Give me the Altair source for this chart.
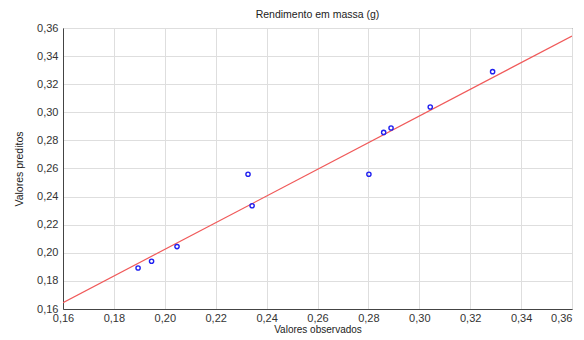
import altair as alt
import pandas as pd

observed = [0.1895, 0.1948, 0.2048, 0.2327, 0.2343, 0.2802, 0.2860, 0.2889, 0.3043, 0.3288]
predicted = [0.1892, 0.1940, 0.2044, 0.2559, 0.2335, 0.2559, 0.2857, 0.2888, 0.3038, 0.3289]
fit_x = [0.16, 0.36]
fit_y = [0.1645, 0.3543]
ticks = [0.16, 0.18, 0.20, 0.22, 0.24, 0.26, 0.28, 0.30, 0.32, 0.34, 0.36]

pts = pd.DataFrame({"obs": observed, "pred": predicted})
fit = pd.DataFrame({"obs": fit_x, "pred": fit_y})

lab = "replace(format(datum.value, '.2f'), '.', ',')"
font = "Liberation Sans"

xsc = alt.Scale(domain=[0.16, 0.36], nice=False, zero=False)
ysc = alt.Scale(domain=[0.16, 0.36], nice=False, zero=False)


def x_axis():
    return alt.Axis(values=ticks, labelExpr=lab, title="Valores observados",
                    grid=True, gridColor="#dedede", domainColor="#444",
                    ticks=False,
                    labelFont=font, labelFontSize=11, labelColor="#333",
                    labelAlign={"condition": {"test": "datum.value >= 0.359", "value": "right"},
                                "value": "center"},
                    titleFont=font, titleFontSize=10, titleFontWeight="normal",
                    titleColor="#222", labelPadding=3,
                    titleY=23, titleBaseline="alphabetic",
                    labelFlush=False, labelOverlap=False)


def y_axis():
    return alt.Axis(values=ticks, labelExpr=lab, title="Valores preditos",
                    grid=True, gridColor="#dedede", domainColor="#444",
                    ticks=False,
                    labelFont=font, labelFontSize=11, labelColor="#333",
                    titleFont=font, titleFontSize=10.5, titleFontWeight="normal",
                    titleColor="#222", labelPadding=5, titlePadding=12,
                    labelFlush=False, labelOverlap=False)


line = alt.Chart(fit).mark_line(color="#f05a5a", strokeWidth=1.2, clip=True).encode(
    x=alt.X("obs:Q", scale=xsc, axis=x_axis()),
    y=alt.Y("pred:Q", scale=ysc, axis=y_axis()),
)
points = alt.Chart(pts).mark_point(shape="circle", filled=False, color="#2020f0",
                                   size=18, strokeWidth=1.4, opacity=1).encode(
    x=alt.X("obs:Q", scale=xsc, axis=x_axis()),
    y=alt.Y("pred:Q", scale=ysc, axis=y_axis()),
)

chart = alt.layer(line, points).properties(
    width=509, height=281,
    title=alt.TitleParams("Rendimento em massa (g)", font=font, fontSize=10.5,
                          fontWeight="normal", color="#222", offset=2),
    autosize=alt.AutoSizeParams(type="none"),
    padding={"left": 55, "top": 20, "right": 4, "bottom": 24},
).configure_view(stroke="#444", strokeWidth=1)

chart.save("out.html", embed_options={"renderer": "svg", "actions": False})
